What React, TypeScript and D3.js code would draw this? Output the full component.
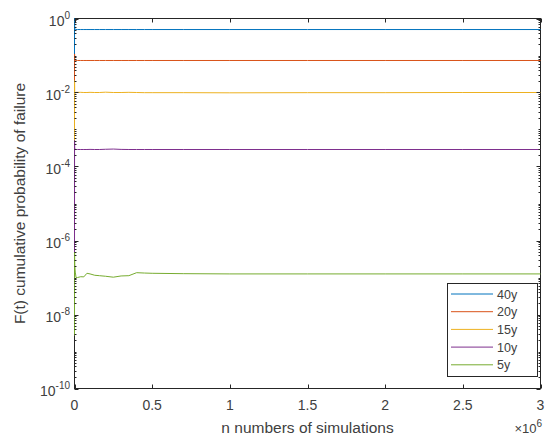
import React from 'react';
import * as d3 from 'd3';

const width = 545;
const height = 437;
const margin = { top: 18, right: 4, bottom: 49, left: 74 };

// n in millions of simulations
const nSamples = [
  0, 0.0005, 0.001, 0.002, 0.005, 0.01, 0.02, 0.04, 0.06, 0.08, 0.1, 0.13, 0.16,
  0.2, 0.25, 0.3, 0.35, 0.4, 0.45, 0.5, 0.7, 1.0, 1.5, 2.0, 2.5, 3.0,
];

const f40y = [
  0.11, 1.0, 0.6, 0.52, 0.51, 0.505, 0.503, 0.503, 0.503, 0.503, 0.503, 0.503, 0.503,
  0.503, 0.503, 0.503, 0.503, 0.503, 0.503, 0.503, 0.503, 0.503, 0.503, 0.503, 0.503, 0.503,
];
const f20y = [
  0.021, 0.11, 0.08, 0.075, 0.073, 0.0735, 0.0733, 0.0733, 0.0733, 0.0733, 0.0733, 0.0733, 0.0733,
  0.0733, 0.0733, 0.0733, 0.0733, 0.0733, 0.0733, 0.0733, 0.0733, 0.0733, 0.0733, 0.0733, 0.0733, 0.0733,
];
const f15y = [
  5e-4, 0.021, 0.011, 0.0093, 0.0097, 0.0101, 0.0101, 0.0101, 0.01, 0.01, 0.0101, 0.01, 0.01,
  0.0102, 0.01, 0.01, 0.0101, 0.01, 0.0099, 0.0099, 0.0099, 0.0098, 0.0099, 0.0099, 0.01, 0.01,
];
const f10y = [
  4e-7, 5e-4, 3.3e-4, 2.9e-4, 2.9e-4, 2.88e-4, 2.88e-4, 2.88e-4, 2.88e-4, 2.88e-4, 2.9e-4, 2.88e-4, 2.88e-4,
  2.92e-4, 2.96e-4, 2.9e-4, 2.88e-4, 2.88e-4, 2.88e-4, 2.88e-4, 2.88e-4, 2.88e-4, 2.88e-4, 2.88e-4, 2.88e-4, 2.88e-4,
];
const f5y = [
  2.7e-9, 4.8e-7, 3e-7, 2e-7, 1.4e-7, 1.0e-7, 1.0e-7, 1.05e-7, 1.04e-7, 1.3e-7, 1.25e-7, 1.15e-7, 1.12e-7,
  1.08e-7, 1.02e-7, 1.1e-7, 1.12e-7, 1.35e-7, 1.32e-7, 1.3e-7, 1.27e-7, 1.25e-7, 1.25e-7, 1.25e-7, 1.25e-7, 1.25e-7,
];

const seriesNames = ['40y', '20y', '15y', '10y', '5y'];
const seriesValues = [f40y, f20y, f15y, f10y, f5y];
const seriesColors = ['#0072BD', '#D95319', '#EDB120', '#7E2F8E', '#77AC30'];

const xTicks = [0, 0.5, 1, 1.5, 2, 2.5, 3];
const yTickExponents = [0, -2, -4, -6, -8, -10];

const font = '"Liberation Sans", Arial, Helvetica, sans-serif';
const axisColor = '#262626';
const textColor = '#404040';

export default function App() {
  const x0 = margin.left + 0.5;
  const x1 = width - margin.right - 0.5;
  const y0 = height - margin.bottom + 0.5;
  const y1 = margin.top + 0.5;

  const xScale = d3.scaleLinear().domain([0, 3]).range([x0, x1]);
  const yScale = d3.scaleLog().domain([1e-10, 1]).range([y0, y1]);

  const line = d3
    .line<[number, number]>()
    .x(d => xScale(d[0]))
    .y(d => yScale(d[1]));

  const minorTicks: number[] = [];
  for (let e = -10; e < 0; e++) {
    for (let m = 1; m < 10; m++) {
      if (m === 1 && e % 2 === 0) continue;
      minorTicks.push(m * Math.pow(10, e));
    }
  }

  const legendX = 447;
  const legendY = 283;
  const legendW = 90;
  const legendH = 93;
  const rowH = 17.7;

  return (
    <div style={{ position: 'absolute', left: 0, top: 0 }}>
      <svg width={width} height={height} style={{ display: 'block', background: '#fff' }}>
        <defs>
          <clipPath id="plotClip">
            <rect x={x0 - 1} y={y1 - 1} width={x1 - x0 + 2} height={y0 - y1 + 2} />
          </clipPath>
        </defs>
        <rect x={0} y={0} width={width} height={height} fill="#fff" />

        {/* box */}
        <rect
          x={x0}
          y={y1}
          width={x1 - x0}
          height={y0 - y1}
          fill="#fff"
          stroke={axisColor}
          strokeWidth={1}
        />

        {/* series */}
        <g clipPath="url(#plotClip)">
          {seriesValues.map((vals, i) => (
            <path
              key={seriesNames[i]}
              d={line(nSamples.map((n, j) => [n, vals[j]] as [number, number])) || ''}
              fill="none"
              stroke={seriesColors[i]}
              strokeWidth={1}
            />
          ))}
        </g>

        {/* ticks */}
        <g stroke={axisColor} strokeWidth={1}>
          {xTicks.map(t => (
            <g key={'xt' + t}>
              <line x1={Math.round(xScale(t)) + 0.5} x2={Math.round(xScale(t)) + 0.5} y1={y0} y2={y0 - 4} />
              <line x1={Math.round(xScale(t)) + 0.5} x2={Math.round(xScale(t)) + 0.5} y1={y1} y2={y1 + 4} />
            </g>
          ))}
          {yTickExponents.map(e => (
            <g key={'yt' + e}>
              <line x1={x0} x2={x0 + 4} y1={Math.round(yScale(Math.pow(10, e))) + 0.5} y2={Math.round(yScale(Math.pow(10, e))) + 0.5} />
              <line x1={x1} x2={x1 - 4} y1={Math.round(yScale(Math.pow(10, e))) + 0.5} y2={Math.round(yScale(Math.pow(10, e))) + 0.5} />
            </g>
          ))}
          {minorTicks.map((v, i) => (
            <g key={'mt' + i}>
              <line x1={x0} x2={x0 + 2} y1={Math.round(yScale(v)) + 0.5} y2={Math.round(yScale(v)) + 0.5} />
              <line x1={x1} x2={x1 - 2} y1={Math.round(yScale(v)) + 0.5} y2={Math.round(yScale(v)) + 0.5} />
            </g>
          ))}
        </g>

        {/* x tick labels */}
        <g fontFamily={font} fontSize={14} fill={textColor} textAnchor="middle">
          {xTicks.map(t => (
            <text key={'xl' + t} x={xScale(t)} y={410}>
              {t}
            </text>
          ))}
        </g>
        <text x={542} y={433} fontFamily={font} fontSize={13} fill={textColor} textAnchor="end">
          <tspan>{'\u00d710'}</tspan>
          <tspan dy={-6} fontSize={10}>6</tspan>
        </text>

        {/* y tick labels */}
        <g fontFamily={font} fontSize={14} fill={textColor} textAnchor="end">
          {yTickExponents.map(e => (
            <text key={'yl' + e} x={70} y={yScale(Math.pow(10, e)) + 7.5}>
              <tspan>10</tspan>
              <tspan dy={-7} fontSize={10}>{e === 0 ? '0' : '-' + Math.abs(e)}</tspan>
            </text>
          ))}
        </g>

        {/* axis labels */}
        <text x={(x0 + x1) / 2} y={433} fontFamily={font} fontSize={15.5} fill={textColor} textAnchor="middle">
          n numbers of simulations
        </text>
        <text
          transform={`translate(20, ${(y0 + y1) / 2}) rotate(-90)`}
          dy="0.35em"
          fontFamily={font}
          fontSize={15.5}
          fill={textColor}
          textAnchor="middle"
        >
          F(t) cumulative probability of failure
        </text>

        {/* legend */}
        <rect
          x={legendX + 0.5}
          y={legendY + 0.5}
          width={legendW}
          height={legendH}
          fill="#fff"
          stroke={axisColor}
          strokeWidth={1}
        />
        {seriesNames.map((name, i) => {
          const ly = legendY + 11 + i * rowH;
          return (
            <g key={'lg' + name}>
              <line x1={451} x2={493} y1={ly} y2={ly} stroke={seriesColors[i]} strokeWidth={1} />
              <text x={497} y={ly + 4.5} fontFamily={font} fontSize={12.5} fill={textColor}>
                {name}
              </text>
            </g>
          );
        })}
      </svg>
    </div>
  );
}
